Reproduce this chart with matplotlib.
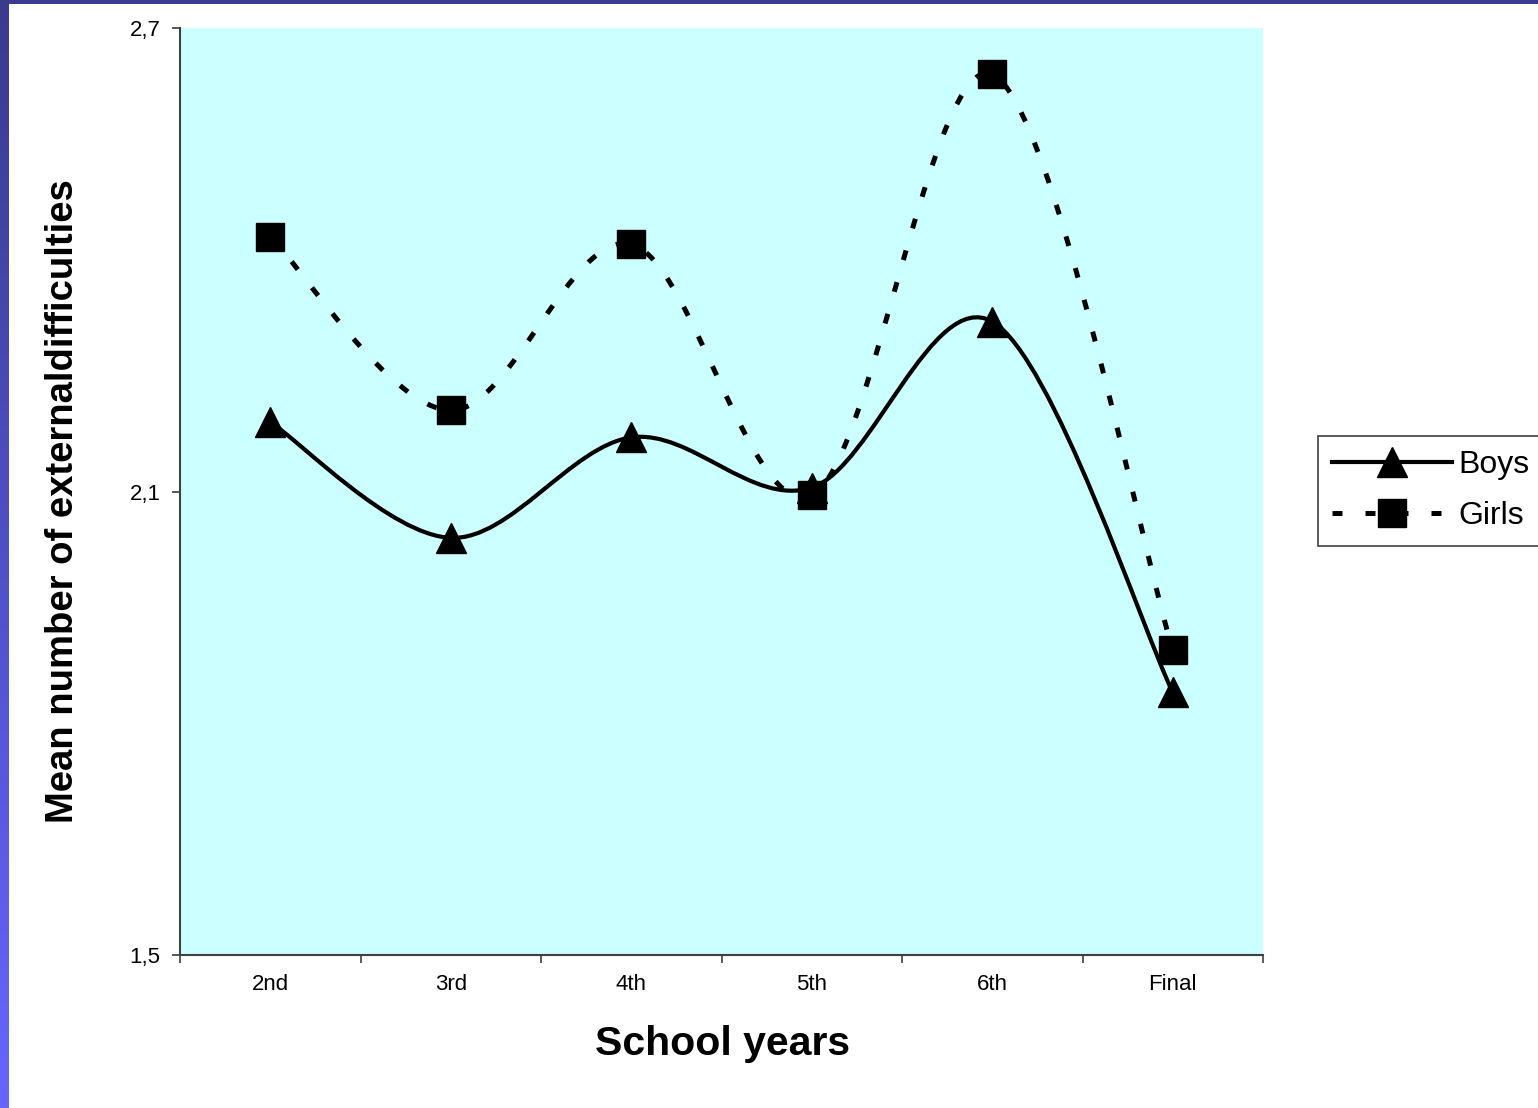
import numpy as np
import matplotlib
matplotlib.use('Agg')
import matplotlib.pyplot as plt
import matplotlib.patches as patches
from matplotlib.path import Path
from matplotlib.lines import Line2D
from matplotlib.ticker import FuncFormatter

plt.rcParams['font.family'] = ['Liberation Sans', 'DejaVu Sans']

# data
years = ['2nd', '3rd', '4th', '5th', '6th', 'Final']
boys = [2.19, 2.04, 2.17, 2.105, 2.32, 1.84]
girls = [2.43, 2.205, 2.42, 2.095, 2.64, 1.895]
yticks = [1.5, 2.1, 2.7]


def smooth_path(xs, ys):
    # excel-like smoothed line: catmull-rom tangents as cubic bezier segments
    pts = np.column_stack([xs, ys]).astype(float)
    n = len(pts)
    verts = [pts[0]]
    codes = [Path.MOVETO]
    for i in range(n - 1):
        p0 = pts[max(i - 1, 0)]
        p1 = pts[i]
        p2 = pts[i + 1]
        p3 = pts[min(i + 2, n - 1)]
        c1 = p1 + (p2 - p0) / 6.0
        c2 = p2 - (p3 - p1) / 6.0
        verts += [c1, c2, p2]
        codes += [Path.CURVE4] * 3
    return Path(verts, codes)


fig = plt.figure(figsize=(15.38, 11.08), dpi=100)
fig.patch.set_facecolor('white')

# slide decoration: gradient strip on the left, dark bar on top
strip = fig.add_axes([0, 0, 9 / 1538, 1])
grad = np.linspace(0, 1, 256).reshape(-1, 1)
cmap = matplotlib.colors.LinearSegmentedColormap.from_list('s', ['#3a3a8e', '#6666ff'])
strip.imshow(grad, aspect='auto', cmap=cmap, origin='upper')
strip.axis('off')
fig.patches.append(patches.Rectangle((0, 1 - 4 / 1108), 1, 4 / 1108, transform=fig.transFigure,
                                     facecolor='#3a3a8e', edgecolor='none', zorder=5))

ax = fig.add_axes([180 / 1538, 153 / 1108, 1083 / 1538, 927 / 1108])
ax.set_facecolor('#ccffff')

x = np.arange(len(years))

boys_style = dict(color='black', lw=3.0)
girls_style = dict(color='black', lw=3.6, ls=(0, (2.0, 4.6)))

ax.add_patch(patches.PathPatch(smooth_path(x, boys), fill=False, edgecolor='black',
                               lw=boys_style['lw'], capstyle='butt', zorder=3))
ax.plot(x, boys, ls='none', marker='^', ms=21, color='black', zorder=4)
ax.add_patch(patches.PathPatch(smooth_path(x, girls), fill=False, edgecolor='black',
                               lw=girls_style['lw'], ls=girls_style['ls'], capstyle='butt', zorder=5))
ax.plot(x, girls, ls='none', marker='s', ms=20, color='black', zorder=6)

ax.set_xlim(-0.5, len(years) - 0.5)
ax.set_ylim(1.5, 2.7)

ax.set_xticks(x)
ax.set_xticklabels(years)
ax.set_xticks(np.arange(-0.5, len(years)), minor=True)
ax.tick_params(axis='x', which='major', length=0, pad=14, labelsize=16)
ax.tick_params(axis='x', which='minor', length=6, width=1.2, color='#404040', direction='out')

ax.set_yticks(yticks)
ax.yaxis.set_major_formatter(FuncFormatter(lambda v, p: ('%.1f' % v).replace('.', ',')))
ax.tick_params(axis='y', length=6, width=1.2, color='#404040', pad=8, labelsize=16)

for s in ['top', 'right']:
    ax.spines[s].set_visible(False)
for s in ['left', 'bottom']:
    ax.spines[s].set_color('#404040')
    ax.spines[s].set_linewidth(1.5)

ax.set_xlabel('School years', fontsize=29.5, fontweight='bold')
ax.xaxis.set_label_coords(0.501, -0.075)
ax.set_ylabel('Mean number of externaldifficulties', fontsize=27.5, fontweight='bold')
ax.yaxis.set_label_coords(-0.091, 0.49)

handles = [
    Line2D([], [], marker='^', ms=21, **boys_style),
    Line2D([], [], marker='s', ms=20, **girls_style),
]
leg = fig.legend(handles, ['Boys', 'Girls'], loc='upper left',
                 bbox_to_anchor=(1318 / 1538, 1 - 436 / 1108), borderaxespad=0,
                 fontsize=23, handlelength=3.75, handletextpad=0.2, labelspacing=0.65,
                 borderpad=0.45, fancybox=False, framealpha=1)
leg.get_frame().set_edgecolor('#404040')
leg.get_frame().set_linewidth(1.2)

fig.savefig('out.png', dpi=100, facecolor='white')
